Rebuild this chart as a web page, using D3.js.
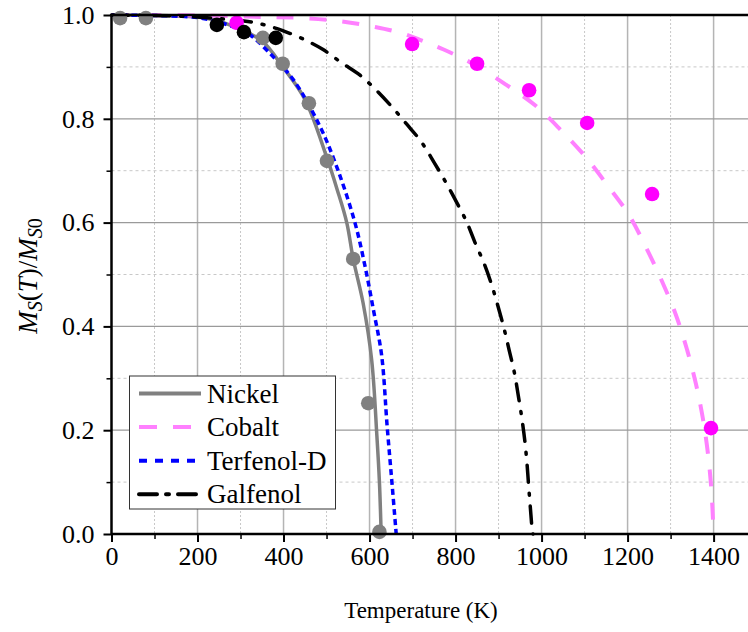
<!DOCTYPE html>
<html><head><meta charset="utf-8">
<script src="https://cdn.jsdelivr.net/npm/d3@7"></script>
<style>body{margin:0;background:#fff}svg{display:block}
svg text{font-family:"Liberation Serif","Times New Roman",Tinos,serif !important;}</style>
</head><body>
<svg id="c" width="748" height="632"></svg>
<script>
// ---- data ----
const xTickValues = [0, 200, 400, 600, 800, 1000, 1200, 1400];
const yTickValues = [0.0, 0.2, 0.4, 0.6, 0.8, 1.0];
const seriesNames = ["Nickel", "Cobalt", "Terfenol-D", "Galfenol"];

const nickelCurveT = [0, 100, 200, 250, 300, 350, 400, 450, 500, 525, 547, 562, 585, 605, 617, 623, 627];
const nickelCurveM = [1, 0.999, 0.996, 0.988, 0.972, 0.95, 0.898, 0.837, 0.727, 0.663, 0.6, 0.53, 0.445, 0.335, 0.19, 0.1, 0];
const cobaltCurveT = [0, 200, 364, 448, 531, 613, 675, 717, 771, 845, 917, 985, 1044, 1102, 1154, 1203, 1243, 1280, 1312, 1338, 1359, 1375, 1387, 1395, 1400];
const cobaltCurveM = [1, 0.999, 0.996, 0.994, 0.988, 0.977, 0.965, 0.952, 0.934, 0.904, 0.866, 0.826, 0.779, 0.727, 0.671, 0.615, 0.552, 0.487, 0.423, 0.356, 0.289, 0.223, 0.154, 0.083, 0];
const terfenolCurveT = [0, 100, 200, 250, 300, 322, 365, 423, 485, 527, 566, 589, 609, 628, 641, 652, 662];
const terfenolCurveM = [1, 0.999, 0.995, 0.986, 0.972, 0.962, 0.929, 0.875, 0.785, 0.7, 0.6, 0.518, 0.432, 0.345, 0.207, 0.1, 0];
const galfenolCurveT = [0, 150, 250, 330, 372, 398, 445, 491, 535, 578, 617, 652, 686, 720, 750, 775, 802, 826, 845, 866, 884, 899, 913, 925, 937, 946, 954, 961, 966, 970, 974, 978, 980];
const galfenolCurveM = [1, 0.998, 0.993, 0.986, 0.977, 0.97, 0.954, 0.934, 0.908, 0.884, 0.854, 0.823, 0.79, 0.756, 0.716, 0.681, 0.64, 0.601, 0.562, 0.522, 0.48, 0.438, 0.395, 0.353, 0.31, 0.266, 0.224, 0.18, 0.137, 0.092, 0.05, 0.01, 0];

const nickelPtsT = [20, 80, 352, 398, 459, 501, 562, 597, 623];
const nickelPtsM = [0.994, 0.994, 0.956, 0.906, 0.83, 0.719, 0.53, 0.252, 0.004];
const cobaltPtsT = [291, 699, 850, 971, 1106, 1257, 1394];
const cobaltPtsM = [0.985, 0.944, 0.906, 0.855, 0.792, 0.655, 0.204];
const galfenolPtsT = [245, 308, 382];
const galfenolPtsM = [0.981, 0.967, 0.956];

// ---- layout ----
const svg = d3.select("#c");
const L = 111.5, R = 748, T = 15, B = 534;
const x = d3.scaleLinear().domain([0, 1480]).range([L, R]);
const y = d3.scaleLinear().domain([0, 1]).range([B, T]);

// grid
const g = svg.append("g");
const xMinor = d3.range(100, 1480, 200);
const yMinor = d3.range(0.1, 1.0, 0.2);
g.selectAll(".vx").data(xMinor).join("line")
  .attr("x1", d => x(d)).attr("x2", d => x(d)).attr("y1", T).attr("y2", B)
  .attr("stroke", "#c8c8c8").attr("stroke-width", 1).attr("stroke-dasharray", "2,2");
g.selectAll(".hy").data(yMinor).join("line")
  .attr("y1", d => y(d)).attr("y2", d => y(d)).attr("x1", L).attr("x2", R)
  .attr("stroke", "#c8c8c8").attr("stroke-width", 1).attr("stroke-dasharray", "3,3");
g.selectAll(".vX").data(xTickValues.slice(1)).join("line")
  .attr("x1", d => x(d)).attr("x2", d => x(d)).attr("y1", T).attr("y2", B)
  .attr("stroke", "#b4b4b4").attr("stroke-width", 1.5);
g.selectAll(".hY").data(yTickValues.slice(1, -1)).join("line")
  .attr("y1", d => y(d)).attr("y2", d => y(d)).attr("x1", L).attr("x2", R)
  .attr("stroke", "#9a9a9a").attr("stroke-width", 1.2);

// curves
const line = d3.line().x(d => x(d[0])).y(d => y(d[1])).curve(d3.curveCatmullRom.alpha(0.5));
const zip = (a, b) => a.map((v, i) => [v, b[i]]);
const curves = [
  {d: zip(nickelCurveT, nickelCurveM), c: "#808080", w: 3.5, dash: null, cap: "butt"},
  {d: zip(cobaltCurveT, cobaltCurveM), c: "#ff80ff", w: 4, dash: "17,16", cap: "butt"},
  {d: zip(terfenolCurveT, terfenolCurveM), c: "#0000ff", w: 3.5, dash: "6,4", cap: "butt"},
  {d: zip(galfenolCurveT, galfenolCurveM), c: "#000000", w: 3.5, dash: "17,11,2,11", cap: "round"}
];
curves.forEach(s => {
  svg.append("path").attr("d", line(s.d)).attr("fill", "none")
    .attr("stroke", s.c).attr("stroke-width", s.w)
    .attr("stroke-dasharray", s.dash).attr("stroke-linecap", s.cap);
});

// points
const pts = [
  {t: nickelPtsT, m: nickelPtsM, c: "#808080"},
  {t: cobaltPtsT, m: cobaltPtsM, c: "#ff00ff"},
  {t: galfenolPtsT, m: galfenolPtsM, c: "#000000"}
];
pts.forEach(p => {
  svg.append("g").selectAll("circle").data(zip(p.t, p.m)).join("circle")
    .attr("cx", d => x(d[0])).attr("cy", d => y(d[1])).attr("r", 7.3).attr("fill", p.c);
});

// axes
const xAxis = d3.axisBottom(x).tickValues(xTickValues).tickSize(8).tickPadding(5).tickFormat(d3.format("d"));
const yAxis = d3.axisLeft(y).tickValues(yTickValues).tickSize(8).tickPadding(9).tickFormat(d3.format(".1f"));
const xMinorAxis = d3.axisBottom(x).tickValues(xMinor).tickSize(5).tickFormat("");
const yMinorAxis = d3.axisLeft(y).tickValues(yMinor).tickSize(5).tickFormat("");
[ [xMinorAxis, `translate(0,${B})`], [yMinorAxis, `translate(${L},0)`] ].forEach(([a, tr]) => {
  const gg = svg.append("g").attr("transform", tr).call(a);
  gg.select(".domain").remove();
  gg.selectAll("line").attr("stroke", "#000").attr("stroke-width", 1.5);
});
const gx = svg.append("g").attr("transform", `translate(0,${B})`).call(xAxis);
const gy = svg.append("g").attr("transform", `translate(${L},0)`).call(yAxis);
[gx, gy].forEach(gg => {
  gg.attr("font-family", null);
  gg.select(".domain").attr("stroke", "#000").attr("stroke-width", 2.5);
  gg.selectAll(".tick line").attr("stroke", "#000").attr("stroke-width", 2);
  gg.selectAll("text").attr("font-size", 26).attr("fill", "#000");
});
gx.select(".domain").attr("d", `M${L},0H${R}`);
gy.select(".domain").attr("d", `M0,${B}V${T}`);
// top border
svg.append("line").attr("x1", L).attr("x2", R).attr("y1", T).attr("y2", T)
  .attr("stroke", "#000").attr("stroke-width", 2.5);

// axis titles
svg.append("text").attr("x", 421).attr("y", 618).attr("text-anchor", "middle")
  .attr("font-size", 23).text("Temperature (K)");
const yl = svg.append("text").attr("transform", "translate(37,276) rotate(-90)")
  .attr("text-anchor", "middle").attr("font-size", 27);
yl.append("tspan").attr("font-style", "italic").text("M");
yl.append("tspan").attr("font-style", "italic").attr("font-size", 20).attr("dy", 5).text("S");
yl.append("tspan").attr("dy", -5).text("(");
yl.append("tspan").attr("font-style", "italic").text("T");
yl.append("tspan").text(")/");
yl.append("tspan").attr("font-style", "italic").text("M");
yl.append("tspan").attr("font-style", "italic").attr("font-size", 20).attr("dy", 5).text("S");
yl.append("tspan").attr("font-size", 20).text("0");

// legend
const lg = svg.append("g");
lg.append("rect").attr("x", 129.5).attr("y", 376).attr("width", 206).attr("height", 133)
  .attr("fill", "#fff").attr("stroke", "#333").attr("stroke-width", 1);
const legRows = [
  {c: "#808080", w: 4, dash: null, cap: "butt"},
  {c: "#ff80ff", w: 4, dash: "18,16", cap: "butt"},
  {c: "#0000ff", w: 4, dash: "8,8", cap: "butt"},
  {c: "#000000", w: 4, dash: "18,9,3,9", cap: "round"}
];
seriesNames.forEach((n, i) => {
  const yy = 393.5 + i * 33.6;
  const st = legRows[i];
  lg.append("line").attr("x1", 139).attr("x2", 201).attr("y1", yy).attr("y2", yy)
    .attr("stroke", st.c).attr("stroke-width", st.w)
    .attr("stroke-dasharray", st.dash).attr("stroke-linecap", st.cap);
  lg.append("text").attr("x", 207).attr("y", yy + 9)
    .attr("font-size", 27).text(n);
});
</script>
</body></html>
